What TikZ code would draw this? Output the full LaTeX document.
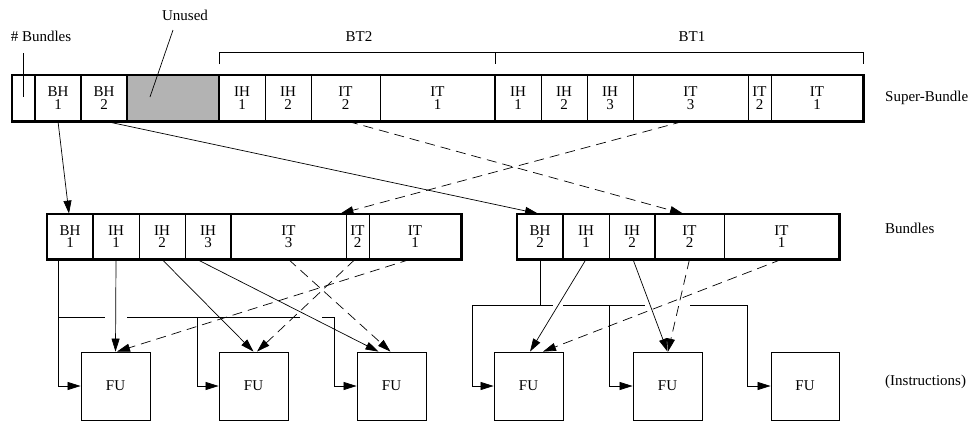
\documentclass[tikz,border=0pt]{standalone}
\usepackage{fontspec}
\setmainfont{Liberation Serif}
\usetikzlibrary{arrows.meta,calc}
\definecolor{unusedgray}{RGB}{179,179,179}
\begin{document}
\begin{tikzpicture}[x=1pt,y=-1pt,
  cell/.style={draw,line width=0.8pt,minimum height=46pt,inner sep=0pt,align=center,font=\fontsize{15}{12.5}\selectfont},
  bcell/.style={cell,minimum height=45pt},
  fu/.style={draw,line width=0.8pt,minimum width=69pt,minimum height=68pt,inner sep=0pt,font=\fontsize{15}{15}\selectfont},
  lbl/.style={inner sep=0pt,font=\fontsize{15}{15}\selectfont},
  thickline/.style={line width=2.2pt},
  arr/.style={-{Triangle[length=13pt,width=8pt]},line width=0.7pt},
  dsh/.style={arr,dash pattern=on 10pt off 6pt},
  plain/.style={line width=0.7pt}]
\useasboundingbox (0,0) rectangle (971,421);

% ---------- Super-bundle ----------
\node[cell,minimum width=23pt] (sN) at (23.5,98) {};
\node[cell,minimum width=46pt] (sBH1) at (58,98) {BH\\1};
\node[cell,minimum width=46pt] (sBH2) at (104,98) {BH\\2};
\node[cell,minimum width=92pt,fill=unusedgray] (sU) at (173,98) {};
\node[cell,minimum width=46pt] (sIH1a) at (242,98) {IH\\1};
\node[cell,minimum width=46pt] (sIH2a) at (288,98) {IH\\2};
\node[cell,minimum width=69pt] (sIT2a) at (345.5,98) {IT\\2};
\node[cell,minimum width=115pt] (sIT1a) at (437.5,98) {IT\\1};
\node[cell,minimum width=46pt] (sIH1b) at (518,98) {IH\\1};
\node[cell,minimum width=46pt] (sIH2b) at (564,98) {IH\\2};
\node[cell,minimum width=46pt] (sIH3b) at (610,98) {IH\\3};
\node[cell,minimum width=115pt] (sIT3b) at (690.5,98) {IT\\3};
\node[cell,minimum width=23pt] (sIT2b) at (759.5,98) {IT\\2};
\node[cell,minimum width=92pt] (sIT1b) at (817,98) {IT\\1};
\draw[thickline] (sN.north west) rectangle (sIT1b.south east);
\foreach \c in {sBH1,sBH2,sU,sIH1a,sIH1b}
  \draw[thickline] (\c.north west) -- (\c.south west);

% ---------- Left bundle ----------
\node[bcell,minimum width=46pt] (lBH1) at (70,236.5) {BH\\1};
\node[bcell,minimum width=46pt] (lIH1) at (116,236.5) {IH\\1};
\node[bcell,minimum width=46pt] (lIH2) at (162,236.5) {IH\\2};
\node[bcell,minimum width=46pt] (lIH3) at (208,236.5) {IH\\3};
\node[bcell,minimum width=115pt] (lIT3) at (288.5,236.5) {IT\\3};
\node[bcell,minimum width=23pt] (lIT2) at (357.5,236.5) {IT\\2};
\node[bcell,minimum width=92pt] (lIT1) at (415,236.5) {IT\\1};
\draw[thickline] (lBH1.north west) rectangle (lIT1.south east);
\foreach \c in {lIH1,lIT3}
  \draw[thickline] (\c.north west) -- (\c.south west);

% ---------- Right bundle ----------
\node[bcell,minimum width=46pt] (rBH2) at (540,236.5) {BH\\2};
\node[bcell,minimum width=46pt] (rIH1) at (586,236.5) {IH\\1};
\node[bcell,minimum width=46pt] (rIH2) at (632,236.5) {IH\\2};
\node[bcell,minimum width=69pt] (rIT2) at (689.5,236.5) {IT\\2};
\node[bcell,minimum width=115pt] (rIT1) at (781.5,236.5) {IT\\1};
\draw[thickline] (rBH2.north west) rectangle (rIT1.south east);
\foreach \c in {rIH1,rIT2}
  \draw[thickline] (\c.north west) -- (\c.south west);

% ---------- FUs ----------
\node[fu] (f1) at (115.5,386) {FU};
\node[fu] (f2) at (253.5,386) {FU};
\node[fu] (f3) at (391.5,386) {FU};
\node[fu] (f4) at (528.5,386) {FU};
\node[fu] (f5) at (667.5,386) {FU};
\node[fu,minimum width=68pt] (f6) at (805,386) {FU};

% ---------- Labels ----------
\node[lbl] (nb) at (41,36) {\# Bundles};
\node[lbl] (unused) at (185,15) {Unused};
\node[lbl] (bt2) at (359,37) {BT2};
\node[lbl] (bt1) at (692,37) {BT1};
\node[lbl,anchor=west] (sbl) at (885,98) {Super-Bundle};
\node[lbl,anchor=west] (bl) at (885,228) {Bundles};
\node[lbl,anchor=west] (il) at (885,382) {(Instructions)};

% pointers
\coordinate (nbtop) at (23,53);
\draw[plain] (nbtop) -- ([xshift=-0.5pt,yshift=1pt]sN.center);
\coordinate (untop) at (173,30);
\draw[plain] (untop) -- ([xshift=-23pt,yshift=1pt]sU.center);

% brackets
\draw[plain] (219,64) -- (219,52) -- (495,52) -- (495,64);
\draw[plain] (495,52) -- (863,52) -- (863,64);

% ---------- Super-bundle -> bundles ----------
\draw[arr] (sBH1.south) -- ([xshift=-1pt]lBH1.north);
\draw[arr] ([xshift=2pt]sBH2.south) -- ([xshift=-2pt]rBH2.north);
\draw[dsh] ([xshift=2.5pt]sIT2a.south) -- ([xshift=-6.5pt]rIT2.north);
\draw[dsh] ([xshift=-7.5pt]sIT3b.south) -- ([xshift=-6pt]lIT3.north east);

% ---------- Left bus ----------
\coordinate (lj) at (58,317);
\coordinate (lg1a) at (105,317);
\coordinate (lg1b) at (127,317);
\coordinate (lg2a) at (300,317);
\coordinate (lg2b) at (322,317);
\coordinate (lr) at (334,317);
\coordinate (lm) at (197,317);
\draw[arr] ([xshift=-12pt]lBH1.south) |- (f1.west);
\draw[plain] (lj) -- (lg1a);
\draw[plain] (lg1b) -- (lg2a);
\draw[plain] (lg2b) -- (lr);
\draw[arr] (lr) |- (f3.west);
\draw[arr] (lm) |- (f2.west);

\draw[arr] (lIH1.south) -- (f1.north);
\draw[arr] (lIH2.south) -- (f2.north);
\draw[arr] ([xshift=-11pt]lIH3.south) -- ([xshift=-13pt]f3.north);
\draw[dsh] (lIT3.south) -- ([xshift=-1pt]f3.north);
\draw[dsh] ([xshift=-2.5pt]lIT2.south) -- ([xshift=3.5pt]f2.north);
\draw[dsh] ([xshift=-5pt]lIT1.south) -- ([xshift=1.5pt]f1.north);

% ---------- Right bus ----------
\coordinate (rj) at (540,305);
\coordinate (rl) at (472,305);
\coordinate (rg1a) at (553,305);
\coordinate (rg1b) at (563,305);
\coordinate (rg2a) at (645,305);
\coordinate (rg2b) at (690,305);
\coordinate (rr) at (747,305);
\coordinate (rm) at (609,305);
\draw[plain] (rBH2.south) -- (rj);
\draw[plain] (rl) -- (rg1a);
\draw[plain] (rg1b) -- (rg2a);
\draw[plain] (rg2b) -- (rr);
\draw[arr] (rl) |- (f4.west);
\draw[arr] (rm) |- (f5.west);
\draw[arr] (rr) |- (f6.west);

\draw[arr] (rIH1.south) -- ([xshift=1.5pt]f4.north);
\draw[arr] ([xshift=1pt]rIH2.south) -- (f5.north);
\draw[dsh] (rIT2.south) -- ([xshift=0.5pt]f5.north);
\draw[dsh] (rIT1.south) -- ([xshift=14.5pt]f4.north);
\end{tikzpicture}
\end{document}
